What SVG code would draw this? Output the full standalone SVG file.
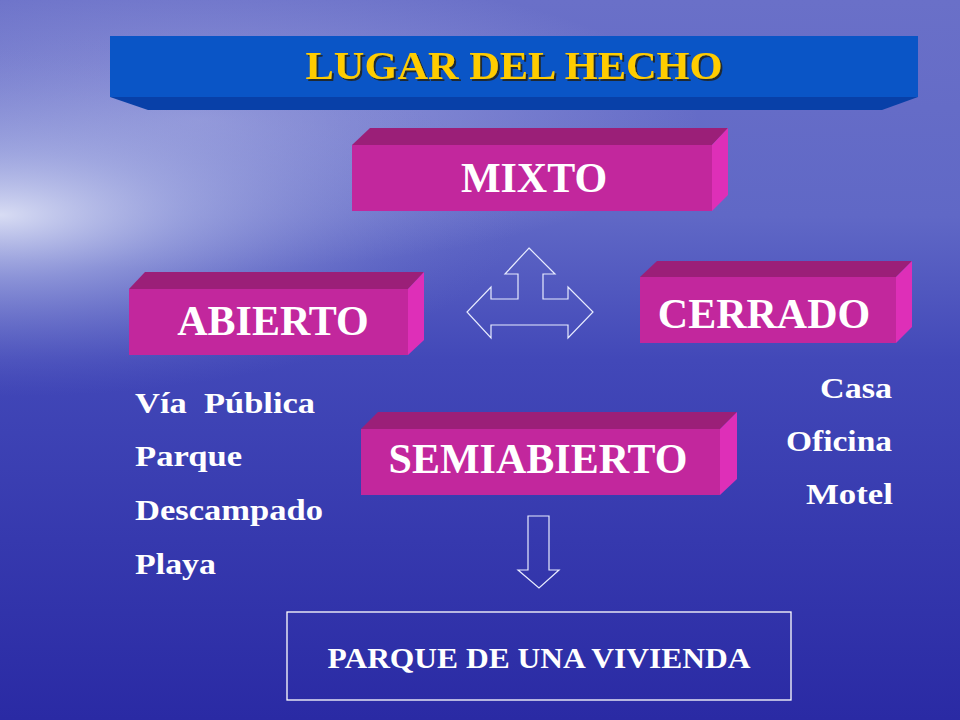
<svg xmlns="http://www.w3.org/2000/svg" width="960" height="720" viewBox="0 0 960 720">
<defs>
<linearGradient id="bg" x1="0" y1="0" x2="0" y2="1">
<stop offset="0" stop-color="#6a70c8"/>
<stop offset="0.3" stop-color="#6068c6"/>
<stop offset="0.5" stop-color="#4248b8"/>
<stop offset="1" stop-color="#2a2aa4"/>
</linearGradient>
<radialGradient id="glow" gradientUnits="userSpaceOnUse" cx="0" cy="215" r="520" gradientTransform="translate(0,215) scale(1,0.35) translate(0,-215)">
<stop offset="0" stop-color="#e4e8f8" stop-opacity="0.9"/>
<stop offset="0.35" stop-color="#b8c0ea" stop-opacity="0.55"/>
<stop offset="1" stop-color="#7078cc" stop-opacity="0"/>
</radialGradient>
<radialGradient id="glow2" gradientUnits="userSpaceOnUse" cx="200" cy="120" r="500" gradientTransform="translate(200,120) scale(1,0.3) translate(-200,-120)">
<stop offset="0" stop-color="#c8ccf0" stop-opacity="0.45"/>
<stop offset="1" stop-color="#c8ccf0" stop-opacity="0"/>
</radialGradient>
<filter id="shadow" x="-5%" y="-20%" width="110%" height="140%">
<feDropShadow dx="2" dy="2" stdDeviation="0.6" flood-color="#2a1a00" flood-opacity="0.75"/>
</filter>
<style>
.front{fill:#c2279d}
.top{fill:#9b1f78}
.side{fill:#de2fb8}
.lbl{font-family:"Liberation Serif","Times New Roman",serif;font-weight:bold;fill:#ffffff}
.big{font-size:42px}
.list{font-size:30px}
.arrow{fill:none;stroke:#e8ecff;stroke-width:1.2}
</style>
</defs>
<rect width="960" height="720" fill="url(#bg)"/>
<rect width="960" height="720" fill="url(#glow2)"/>
<rect width="960" height="720" fill="url(#glow)"/>
<g id="title">
<polygon points="110,97 918,97 882,110 148,110" fill="#0840a8"/>
<rect x="110" y="36" width="808" height="61" fill="#0a55c6"/>
<text x="514" y="79" text-anchor="middle" font-family="Liberation Serif, Times New Roman, serif" font-weight="bold" font-size="40" fill="#ffcc00" textLength="417" lengthAdjust="spacingAndGlyphs" filter="url(#shadow)">LUGAR DEL HECHO</text>
</g>
<g id="mixto">
<polygon class="top" points="352,145 370,128 728,128 712,145"/>
<polygon class="side" points="712,145 728,128 728,195 712,211"/>
<rect class="front" x="352" y="145" width="360" height="66"/>
<text class="lbl big" x="534" y="192" text-anchor="middle">MIXTO</text>
</g>
<g id="abierto">
<polygon class="top" points="129,289 145,272 424,272 408,289"/>
<polygon class="side" points="408,289 424,272 424,340 408,355"/>
<rect class="front" x="129" y="289" width="279" height="66"/>
<text class="lbl big" x="273" y="335" text-anchor="middle">ABIERTO</text>
</g>
<g id="cerrado">
<polygon class="top" points="640,277 657,261 912,261 896,277"/>
<polygon class="side" points="896,277 912,261 912,327 896,343"/>
<rect class="front" x="640" y="277" width="256" height="66"/>
<text class="lbl big" x="764" y="328" text-anchor="middle">CERRADO</text>
</g>
<g id="semiabierto">
<polygon class="top" points="361,429 378,412 737,412 720,429"/>
<polygon class="side" points="720,429 737,412 737,479 720,495"/>
<rect class="front" x="361" y="429" width="359" height="66"/>
<text class="lbl big" x="538" y="473" text-anchor="middle">SEMIABIERTO</text>
</g>
<g id="lista-abierto">
<text class="lbl list" x="135" y="413" xml:space="preserve" textLength="180" lengthAdjust="spacingAndGlyphs">Vía  Pública</text>
<text class="lbl list" x="135" y="466" textLength="107" lengthAdjust="spacingAndGlyphs">Parque</text>
<text class="lbl list" x="135" y="520" textLength="188" lengthAdjust="spacingAndGlyphs">Descampado</text>
<text class="lbl list" x="135" y="574" textLength="81" lengthAdjust="spacingAndGlyphs">Playa</text>
</g>
<g id="lista-cerrado">
<text class="lbl list" x="820" y="398" textLength="72" lengthAdjust="spacingAndGlyphs">Casa</text>
<text class="lbl list" x="786" y="451" textLength="106" lengthAdjust="spacingAndGlyphs">Oficina</text>
<text class="lbl list" x="806" y="504" textLength="87" lengthAdjust="spacingAndGlyphs">Motel</text>
</g>
<g id="parque-vivienda">
<rect x="287" y="612" width="504" height="88" fill="none" stroke="#ffffff" stroke-width="1.3"/>
<text class="lbl" x="539" y="668" text-anchor="middle" font-size="30" textLength="423" lengthAdjust="spacingAndGlyphs">PARQUE DE UNA VIVIENDA</text>
</g>
<g id="connectors">
<polygon class="arrow" points="529,248 555,274 543,274 543,299 568,299 568,287 593,312 568,338 568,325 491,325 491,338 467,312 491,287 491,299 518,299 518,274 505,274"/>
<polygon class="arrow" points="528,516 549,516 549,570 559,570 539,588 518,570 528,570"/>
</g>
</svg>
